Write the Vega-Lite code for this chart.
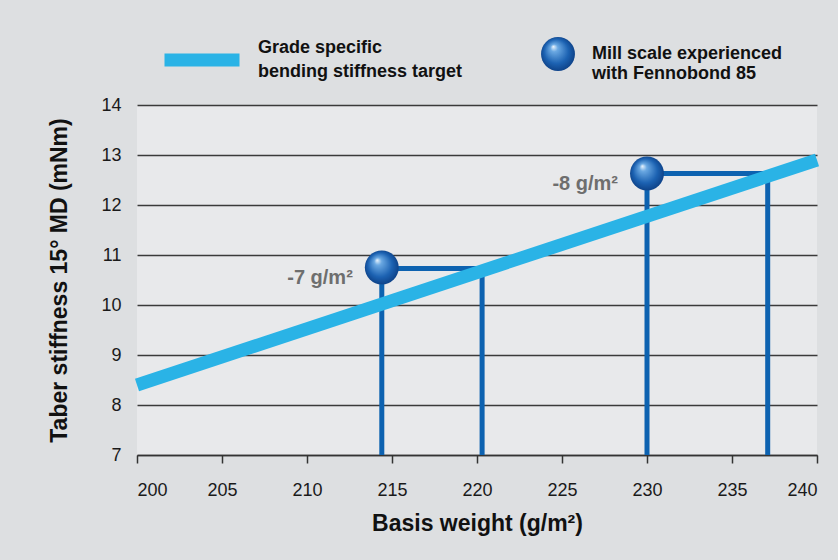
{
  "$schema": "https://vega.github.io/schema/vega-lite/v6.json",
  "width": 680,
  "height": 350,
  "autosize": {"type": "none"},
  "padding": {"left": 137, "top": 105, "right": 21, "bottom": 105},
  "background": "#dddfe1",
  "config": {
    "view": {"fill": "#e8e9eb", "stroke": null},
    "font": "Liberation Sans"
  },
  "datasets": {
    "target": [
      {"weight": 200, "stiffness": 8.4, "series": "Grade specific|bending stiffness target"},
      {"weight": 240, "stiffness": 12.9, "series": "Grade specific|bending stiffness target"}
    ],
    "connectors": [
      {"sample": "A", "step": 1, "weight": 214.4, "stiffness": 7},
      {"sample": "A", "step": 2, "weight": 214.4, "stiffness": 10.73},
      {"sample": "A", "step": 3, "weight": 220.3, "stiffness": 10.73},
      {"sample": "A", "step": 4, "weight": 220.3, "stiffness": 7},
      {"sample": "B", "step": 1, "weight": 230, "stiffness": 7},
      {"sample": "B", "step": 2, "weight": 230, "stiffness": 12.63},
      {"sample": "B", "step": 3, "weight": 237.1, "stiffness": 12.63},
      {"sample": "B", "step": 4, "weight": 237.1, "stiffness": 7}
    ],
    "mill": [
      {"weight": 214.4, "stiffness": 10.75, "saving": "-7 g/m²", "trial": "Mill scale experienced|with Fennobond 85"},
      {"weight": 230, "stiffness": 12.63, "saving": "-8 g/m²", "trial": "Mill scale experienced|with Fennobond 85"}
    ]
  },
  "encoding": {
    "x": {
      "field": "weight",
      "type": "quantitative",
      "scale": {"domain": [200, 240], "nice": false, "zero": false},
      "axis": {
        "title": "Basis weight (g/m²)",
        "values": [200, 205, 210, 215, 220, 225, 230, 235, 240],
        "grid": false,
        "domainColor": "#333333",
        "domainWidth": 1.5,
        "tickColor": "#333333",
        "tickWidth": 1.5,
        "tickSize": 8,
        "labelFont": "Liberation Sans",
        "labelFontSize": 18,
        "labelColor": "#1a1a1a",
        "labelPadding": 18,
        "titleFont": "Liberation Sans",
        "titleFontSize": 23,
        "titleFontWeight": "bold",
        "titleColor": "#111111",
        "titlePadding": 13
      }
    },
    "y": {
      "field": "stiffness",
      "type": "quantitative",
      "scale": {"domain": [7, 14], "nice": false, "zero": false},
      "axis": {
        "title": "Taber stiffness 15° MD (mNm)",
        "values": [7, 8, 9, 10, 11, 12, 13, 14],
        "domain": false,
        "ticks": false,
        "gridColor": "#3a3a3a",
        "gridWidth": 1.5,
        "gridOpacity": 1,
        "labelFont": "Liberation Sans",
        "labelFontSize": 18,
        "labelColor": "#1a1a1a",
        "labelPadding": 16,
        "titleFont": "Liberation Sans",
        "titleFontSize": 23,
        "titleFontWeight": "bold",
        "titleColor": "#111111",
        "titlePadding": 29
      }
    }
  },
  "layer": [
    {
      "data": {"name": "connectors"},
      "mark": {"type": "line", "color": "#0d62b0", "strokeWidth": 5, "strokeCap": "butt", "strokeJoin": "miter"},
      "encoding": {
        "detail": {"field": "sample"},
        "order": {"field": "step"}
      }
    },
    {
      "data": {"name": "target"},
      "mark": {"type": "line", "strokeWidth": 13, "strokeCap": "butt"},
      "encoding": {
        "color": {
          "field": "series",
          "type": "nominal",
          "scale": {"range": ["#2ab3e6"]},
          "legend": {
            "title": null,
            "orient": "none",
            "legendX": 21,
            "legendY": -89,
            "symbolType": "stroke",
            "symbolSize": 5625,
            "symbolStrokeWidth": 13,
            "symbolStrokeColor": "#2ab3e6",
            "labelExpr": "split(datum.label, '|')",
            "labelFont": "Liberation Sans",
            "labelFontSize": 18,
            "labelFontWeight": "bold",
            "labelColor": "#111111",
            "labelLimit": 0,
            "labelOffset": 12,
            "encode": {"labels": {"update": {"lineHeight": {"value": 24}, "dy": {"value": -12}}}}
          }
        }
      }
    },
    {
      "data": {"name": "mill"},
      "mark": {
        "type": "point",
        "filled": true,
        "size": 1150,
        "opacity": 1,
        "strokeWidth": 0,
        "fill": {
          "gradient": "radial",
          "x1": 0.36, "y1": 0.28, "r1": 0,
          "x2": 0.5, "y2": 0.5, "r2": 0.55,
          "stops": [
            {"offset": 0, "color": "#eef6fd"},
            {"offset": 0.2, "color": "#6aa8e2"},
            {"offset": 0.65, "color": "#1c62b2"},
            {"offset": 1, "color": "#0b3c80"}
          ]
        }
      },
      "encoding": {
        "shape": {
          "field": "trial",
          "type": "nominal",
          "scale": {"range": ["circle"]},
          "legend": {
            "title": null,
            "orient": "none",
            "legendX": 403,
            "legendY": -69,
            "symbolSize": 1150,
            "labelExpr": "split(datum.label, '|')",
            "labelFont": "Liberation Sans",
            "labelFontSize": 18,
            "labelFontWeight": "bold",
            "labelColor": "#111111",
            "labelLimit": 0,
            "labelOffset": 16,
            "encode": {
              "labels": {
                "update": {"lineHeight": {"value": 24}}
              },
              "symbols": {
                "update": {
                  "strokeWidth": {"value": 0},
                  "opacity": {"value": 1},
                  "fill": {
                    "value": {
                      "gradient": "radial",
                      "x1": 0.36, "y1": 0.28, "r1": 0,
                      "x2": 0.5, "y2": 0.5, "r2": 0.55,
                      "stops": [
                        {"offset": 0, "color": "#eef6fd"},
                        {"offset": 0.2, "color": "#6aa8e2"},
                        {"offset": 0.65, "color": "#1c62b2"},
                        {"offset": 1, "color": "#0b3c80"}
                      ]
                    }
                  }
                }
              }
            }
          }
        }
      }
    },
    {
      "data": {"name": "mill"},
      "mark": {
        "type": "text",
        "align": "right",
        "baseline": "middle",
        "dx": -29,
        "dy": 10,
        "font": "Liberation Sans",
        "fontSize": 20,
        "fontWeight": "bold",
        "color": "#6e6e6e"
      },
      "encoding": {
        "text": {"field": "saving"}
      }
    }
  ]
}
